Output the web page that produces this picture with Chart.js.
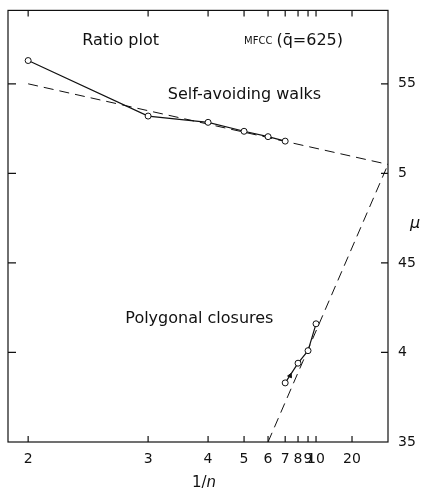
<!DOCTYPE html>
<html>
<head>
<meta charset="utf-8">
<script src="https://cdn.jsdelivr.net/npm/chart.js@4.4.1/dist/chart.umd.min.js"></script>
<style>
  body { margin: 0; background: #fff; }
  #box { width: 424px; height: 495px; }
</style>
</head>
<body>
<div id="box"><canvas id="graph" width="424" height="495"></canvas></div>
<script>
// self-avoiding walks: ratio estimates mu_n against 1/n
var sawN = [2, 3, 4, 5, 6, 7];
var sawMu = [5.63, 5.32, 5.285, 5.235, 5.205, 5.18];
// polygonal closures
var polyN = [7, 8, 9, 10];
var polyMu = [3.83, 3.94, 4.01, 4.16];
// small arrow on the polygon line, near n = 7
var arrowN = [7.35];
var arrowMu = [3.87];
// dashed extrapolation lines (1/n, mu)
var sawFitX = [0.5, 0];
var sawFitY = [5.50, 5.05];
var polyFitX = [1 / 6, 0];
var polyFitY = [3.50, 5.05];
// axis ticks
var xTickN = [2, 3, 4, 5, 6, 7, 8, 9, 10, 20];
var yTicks = [3.5, 4, 4.5, 5, 5.5];
var yTickLabels = ['35', '4', '45', '5', '55'];

var police = "'DejaVu Sans', 'Liberation Sans', sans-serif";
var encre = '#111';

function points(ns, mus) {
    var res = [];
    for (var i in ns)
        res.push({ x: 1 / ns[i], y: mus[i] });
    return res;
}

function pairs(xs, ys) {
    var res = [];
    for (var i in xs)
        res.push({ x: xs[i], y: ys[i] });
    return res;
}

// frame, inward ticks and free text
var cadre = {
    id: 'cadre',
    afterDraw: function(chart) {
        var ctx = chart.ctx;
        var a = chart.chartArea;
        var sx = chart.scales.x;
        var sy = chart.scales.y;
        ctx.save();
        ctx.strokeStyle = encre;
        ctx.lineWidth = 1.2;
        ctx.strokeRect(a.left, a.top, a.right - a.left, a.bottom - a.top);
        ctx.beginPath();
        xTickN.forEach(function(n) {
            var px = sx.getPixelForValue(1 / n);
            ctx.moveTo(px, a.bottom); ctx.lineTo(px, a.bottom - 6);
            ctx.moveTo(px, a.top); ctx.lineTo(px, a.top + 6);
        });
        yTicks.forEach(function(v) {
            if (v == sy.min) return;
            var py = sy.getPixelForValue(v);
            ctx.moveTo(a.right, py); ctx.lineTo(a.right - 7, py);
            ctx.moveTo(a.left, py); ctx.lineTo(a.left + 8, py);
        });
        ctx.stroke();

        ctx.fillStyle = encre;
        ctx.textBaseline = 'middle';
        ctx.textAlign = 'left';
        ctx.font = '16px ' + police;
        ctx.fillText('Ratio plot', sx.getPixelForValue(0.425), sy.getPixelForValue(5.74));
        ctx.fillText('Self-avoiding walks', sx.getPixelForValue(0.306), sy.getPixelForValue(5.44));
        ctx.fillText('Polygonal closures', sx.getPixelForValue(0.365), sy.getPixelForValue(4.19));

        var mx = sx.getPixelForValue(0.2);
        var my = sy.getPixelForValue(5.74);
        ctx.font = '10px ' + police;
        ctx.fillText('MFCC', mx, my + 1);
        mx += ctx.measureText('MFCC').width + 4;
        ctx.font = '16px ' + police;
        ctx.fillText('(q\u0304=625)', mx, my);

        ctx.font = 'italic 16px ' + police;
        ctx.fillText('\u03bc', a.right + 22, sy.getPixelForValue(4.72));

        var tx = (a.left + a.right) / 2 + 6;
        var ty = a.bottom + 41;
        ctx.font = '15px ' + police;
        var w1 = ctx.measureText('1/').width;
        ctx.font = 'italic 15px ' + police;
        var w2 = ctx.measureText('n').width;
        ctx.font = '15px ' + police;
        ctx.fillText('1/', tx - (w1 + w2) / 2, ty);
        ctx.font = 'italic 15px ' + police;
        ctx.fillText('n', tx - (w1 + w2) / 2 + w1, ty);
        ctx.restore();
    }
};

var myGraph = new Chart(document.getElementById('graph'), {
    type: 'scatter',
    data: {
        datasets: [
            {
                label: 'Self-avoiding walks',
                data: points(sawN, sawMu),
                showLine: true,
                borderColor: encre,
                borderWidth: 1.2,
                backgroundColor: '#fff',
                pointBorderColor: encre,
                pointBorderWidth: 1,
                pointRadius: 3
            },
            {
                label: 'Polygonal closures',
                data: points(polyN, polyMu),
                showLine: true,
                borderColor: encre,
                borderWidth: 1.2,
                backgroundColor: '#fff',
                pointBorderColor: encre,
                pointBorderWidth: 1,
                pointRadius: 3
            },
            {
                label: 'SAW extrapolation',
                data: pairs(sawFitX, sawFitY),
                showLine: true,
                borderColor: encre,
                borderWidth: 1,
                borderDash: [10, 6],
                pointRadius: 0
            },
            {
                label: 'Polygon extrapolation',
                data: pairs(polyFitX, polyFitY),
                showLine: true,
                borderColor: encre,
                borderWidth: 1,
                borderDash: [10, 6],
                pointRadius: 0
            },
            {
                label: 'arrow',
                data: points(arrowN, arrowMu),
                showLine: false,
                pointStyle: 'triangle',
                rotation: 25,
                pointRadius: 2.5,
                backgroundColor: encre,
                borderColor: encre
            }
        ]
    },
    options: {
        responsive: false,
        animation: false,
        layout: { padding: { left: 8, top: 7, right: 0, bottom: 0 } },
        plugins: {
            legend: { display: false },
            tooltip: { enabled: false }
        },
        scales: {
            x: {
                type: 'linear',
                reverse: true,
                min: 0,
                max: 0.528,
                grid: { display: false },
                border: { display: false },
                afterBuildTicks: function(scale) {
                    scale.ticks = xTickN.map(function(n) { return { value: 1 / n }; });
                },
                afterFit: function(scale) { scale.height = 53; },
                ticks: {
                    autoSkip: false,
                    maxRotation: 0,
                    padding: 1,
                    color: encre,
                    font: { family: police, size: 14 },
                    callback: function(v) { return String(Math.round(1 / v)); }
                }
            },
            y: {
                type: 'linear',
                position: 'right',
                min: 3.5,
                max: 5.91,
                grid: { display: false },
                border: { display: false },
                afterBuildTicks: function(scale) {
                    scale.ticks = yTicks.map(function(v) { return { value: v }; });
                },
                afterFit: function(scale) { scale.width = 36; },
                ticks: {
                    padding: 2,
                    color: encre,
                    font: { family: police, size: 14 },
                    callback: function(v) { return yTickLabels[yTicks.indexOf(v)]; }
                }
            }
        }
    },
    plugins: [cadre]
});
</script>
</body>
</html>
